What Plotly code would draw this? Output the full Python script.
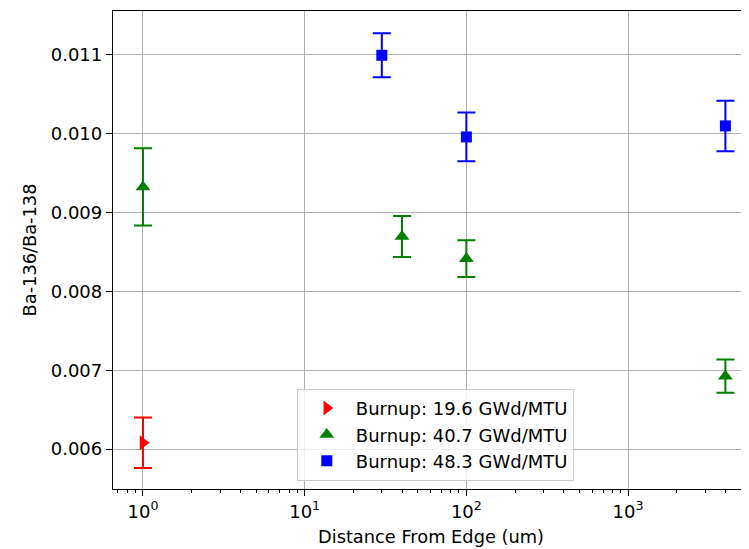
import plotly.graph_objects as go

# Ba-136/Ba-138 ratio vs distance from pellet edge
labels = ["Burnup: 19.6 GWd/MTU", "Burnup: 40.7 GWd/MTU", "Burnup: 48.3 GWd/MTU"]

dist_196 = [1]
ratio_196 = [0.00608]
err_196 = [0.00032]

dist_407 = [1, 40, 100, 4000]
ratio_407 = [0.009325, 0.008697, 0.008416, 0.006925]
err_407 = [0.00049, 0.00026, 0.000232, 0.00021]

dist_483 = [30, 100, 4000]
ratio_483 = [0.010996, 0.00996, 0.0101]
err_483 = [0.00028, 0.00031, 0.00032]

major_x = [1, 10, 100, 1000]
major_x_text = ["10<sup>0</sup>", "10<sup>1</sup>", "10<sup>2</sup>", "10<sup>3</sup>"]
minor_x = [0.7, 0.8, 0.9] + [m * d for d in (1, 10, 100) for m in range(2, 10)] + [2000, 3000, 4000, 5000]
y_ticks = [0.006, 0.007, 0.008, 0.009, 0.010, 0.011]

colors = ["red", "green", "blue"]
symbols = ["triangle-right", "triangle-up", "square"]

fig = go.Figure()
series = [(dist_196, ratio_196, err_196), (dist_407, ratio_407, err_407), (dist_483, ratio_483, err_483)]
for (x, y, e), lab, c, s in zip(series, labels, colors, symbols):
    fig.add_trace(go.Scatter(
        x=x, y=y, mode="markers", name=lab,
        marker=dict(color=c, symbol=s, size=13 if s != "square" else 11),
        error_y=dict(type="data", array=e, visible=True, color=c, thickness=2, width=9),
    ))

# page body has an 8px margin, so the figure is 8px smaller on each axis
fig.update_layout(
    width=741, height=541,
    margin=dict(l=105, r=0, t=3, b=60, autoexpand=False),
    plot_bgcolor="white", paper_bgcolor="white",
    font=dict(family="DejaVu Sans", size=18, color="black"),
    legend=dict(
        x=0.289, y=0.017, xanchor="left", yanchor="bottom",
        bgcolor="rgba(255,255,255,0.8)", bordercolor="#cccccc", borderwidth=1,
        font=dict(size=18), itemwidth=48, tracegroupgap=0,
    ),
    xaxis=dict(
        type="log", range=[-0.1855, 3.748], automargin=False,
        tickvals=major_x, ticktext=major_x_text,
        showgrid=True, gridcolor="#b0b0b0", gridwidth=1.1,
        showline=True, linecolor="black", linewidth=1.3, mirror=True,
        ticks="outside", ticklen=6, tickcolor="black", tickwidth=1.1,
        minor=dict(tickvals=minor_x, ticks="outside", ticklen=3, tickcolor="black", showgrid=False),
        title=dict(text="Distance From Edge (um)", standoff=9, font=dict(size=17.8)),
        zeroline=False,
    ),
    yaxis=dict(
        range=[0.005493, 0.011558], automargin=False,
        tickvals=y_ticks, tickformat=".3f",
        showgrid=True, gridcolor="#b0b0b0", gridwidth=1.1,
        showline=True, linecolor="black", linewidth=1.3,
        ticks="outside", ticklen=6, tickcolor="black", tickwidth=1.1,
        title=dict(text="Ba-136/Ba-138", standoff=9, font=dict(size=17.8)),
        zeroline=False,
    ),
)

fig.write_html("out.html")
